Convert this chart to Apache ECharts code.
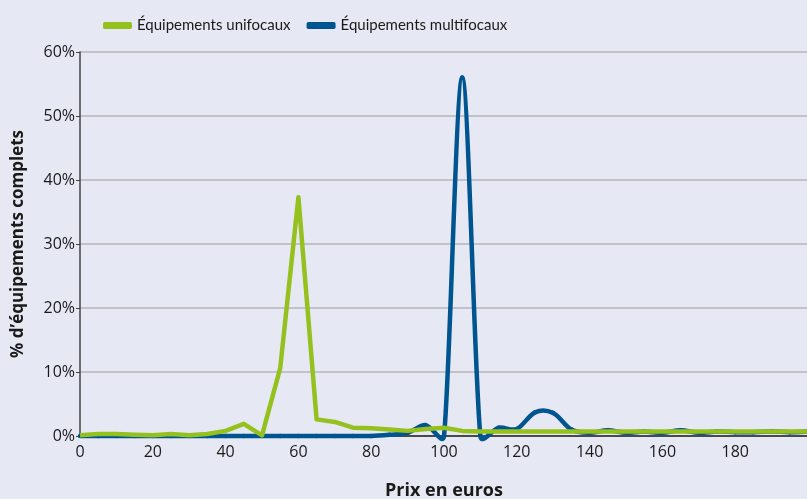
<!DOCTYPE html>
<html><head><meta charset="utf-8">
<script src="https://cdn.jsdelivr.net/npm/echarts@6/dist/echarts.min.js"></script>
<style>html,body{margin:0;padding:0;background:#e6e8f4;}#c{width:807px;height:499px;}</style>
</head><body><div id="c"></div>
<script>
const prices = [0,5,10,15,20,25,30,35,40,45,50,55,60,65,70,75,80,85,90,95,100,105,110,115,120,125,130,135,140,145,150,155,160,165,170,175,180,185,190,195,200];
const unifocaux = [0.1,0.3,0.3,0.2,0.1,0.3,0.1,0.3,0.8,1.9,0.1,10.6,37.3,2.6,2.2,1.3,1.2,1.0,0.8,1.1,1.3,0.8,0.7,0.7,0.7,0.7,0.7,0.7,0.7,0.7,0.7,0.7,0.7,0.7,0.7,0.7,0.7,0.7,0.7,0.7,0.7];
const multifocaux = [0,0,0,0,0,0,0,0,0,0,0,0,0,0,0,0,0,0.2,0.5,1.7,0,56,0,1.3,1.1,3.7,3.6,1.0,0.5,0.9,0.5,0.7,0.5,0.9,0.5,0.7,0.6,0.6,0.7,0.6,0.7];
const seriesNames = ['Équipements unifocaux','Équipements multifocaux'];
const xTitle = 'Prix en euros';
const yTitle = '% d\u2019équipements complets';

const FONT = 'Open Sans';
const LEG = 'Lato';
const BLUE = '#00548f', GREEN = '#95c11f';

// smoothed line (spreadsheet-style spline) drawn through the data via the axes
function renderSmooth(params, api) {
  const i = params.dataIndex, n = prices.length;
  if (i >= n - 1) return null;
  const P = k => { const kk = Math.max(0, Math.min(n - 1, k)); return api.coord([prices[kk], multifocaux[kk]]); };
  const tan = k => { const a = P(k - 1), b = P(k + 1); return [(b[0] - a[0]) / 6, (b[1] - a[1]) / 6]; };
  const p1 = P(i), p2 = P(i + 1);
  const seg = Math.hypot(p2[0] - p1[0], p2[1] - p1[1]);
  const lim = (t) => { const l = Math.hypot(t[0], t[1]); const s = l > 0 ? Math.min(1, 0.5 * seg / l) : 0; return [t[0] * s, t[1] * s]; };
  const t1 = lim(tan(i)), t2 = lim(tan(i + 1));
  return {
    type: 'bezierCurve',
    shape: {x1: p1[0], y1: p1[1], x2: p2[0], y2: p2[1],
            cpx1: p1[0] + t1[0], cpy1: p1[1] + t1[1], cpx2: p2[0] - t2[0], cpy2: p2[1] - t2[1]},
    style: {stroke: BLUE, lineWidth: 4.5, fill: null, lineCap: 'round'}
  };
}

const chart = echarts.init(document.getElementById('c'));
chart.setOption({
  backgroundColor: '#e6e8f4',
  animation: false,
  legend: {
    top: 13, left: 98, itemWidth: 29, itemHeight: 7, itemGap: 16,
    textStyle: {fontFamily: LEG, fontSize: 15, color: '#1a1a1a'},
    data: seriesNames.map(n => ({name: n, icon: 'roundRect'}))
  },
  grid: {left: 80, top: 52, width: 728, height: 384, containLabel: false, outerBoundsMode: 'none'},
  xAxis: {
    type: 'value', min: 0, max: 200, interval: 20,
    axisLine: {show: true, lineStyle: {color: '#222', width: 1.5}},
    axisTick: {show: false},
    splitLine: {show: false},
    axisLabel: {fontFamily: FONT, fontSize: 16, color: '#1a1a1a', margin: 8, showMaxLabel: false},
    name: xTitle, nameLocation: 'middle', nameGap: 46,
    nameTextStyle: {fontFamily: FONT, fontSize: 18, fontWeight: 'bold', color: '#1a1a1a'}
  },
  yAxis: {
    type: 'value', min: 0, max: 60, interval: 10,
    axisLine: {show: true, lineStyle: {color: '#444', width: 1.5}},
    axisTick: {show: true, length: 4, lineStyle: {color: '#444'}},
    splitLine: {show: true, lineStyle: {color: '#b4b4b8', width: 1.5}},
    axisLabel: {fontFamily: FONT, fontSize: 16, color: '#1a1a1a', margin: 5, formatter: v => v + '%'},
    name: yTitle, nameLocation: 'middle', nameGap: 53, nameRotate: 90,
    nameTextStyle: {fontFamily: FONT, fontSize: 17, fontWeight: 'bold', color: '#1a1a1a'}
  },
  series: [
    {name: seriesNames[0], type: 'line', z: 4, showSymbol: false, smooth: false,
     color: GREEN, lineStyle: {width: 4.5, color: GREEN, join: 'round'},
     data: prices.map((p, i) => [p, unifocaux[i]])},
    {name: seriesNames[1], type: 'custom', z: 3, color: BLUE, itemStyle: {color: BLUE},
     encode: {x: 0, y: 1}, renderItem: renderSmooth,
     data: prices.map((p, i) => [p, multifocaux[i]])}
  ]
});
</script></body></html>
